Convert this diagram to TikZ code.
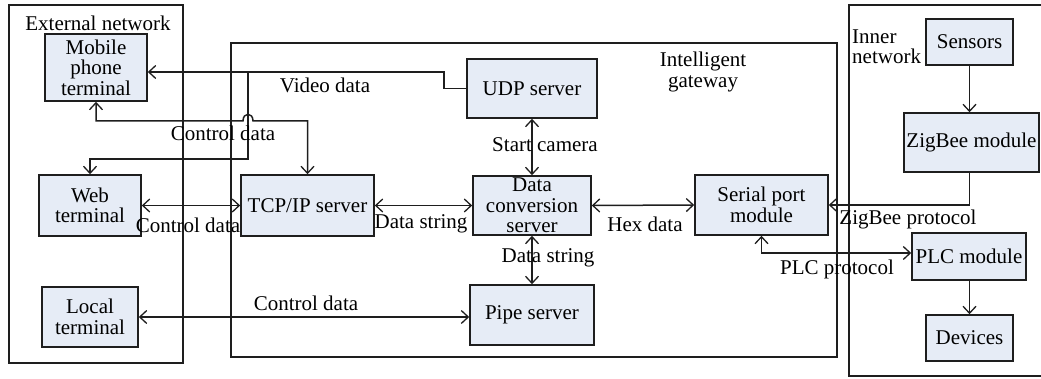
\documentclass[tikz,border=0pt]{standalone}
\usepackage{fontspec}
\setmainfont{Liberation Serif}
\newfontfamily\labelface{Liberation Serif}
\usetikzlibrary{arrows.meta}
\definecolor{boxfill}{RGB}{230,236,246}
\definecolor{ink}{RGB}{30,30,30}
\tikzset{
  txt/.style={font=\labelface\fontsize{21}{20.5}\selectfont},
  block/.style={txt, draw=ink, line width=1.6pt, fill=boxfill, rectangle, inner sep=0pt,
    align=center},
  frame/.style={draw=ink, line width=1.6pt},
  link/.style={draw=ink, line width=1.5pt},
  lbl/.style={txt, inner sep=0pt, align=center},
}
\begin{document}
\begin{tikzpicture}[x=1pt,y=-1pt, >={Straight Barb[length=7pt,width=13pt,line width=1.3pt]}]
\useasboundingbox (0,0) rectangle (1041,379);

% region frames
\draw[frame] (9,5) rectangle (183,363);
\draw[frame] (231,43) rectangle (837,357);
\draw[frame] (1050,5) -- (849,5) -- (849,376) -- (1050,376);

\node[lbl] (extlbl) at (98,23) {External network};
\node[lbl] (gwlbl) at (703,72) {Intelligent\\gateway};
\node[lbl, align=left, anchor=north west, font=\labelface\fontsize{21}{19.5}\selectfont] (inlbl) at (852,30) {Inner\\network};

% external terminals
\node[block, minimum width=102pt, minimum height=67pt] (mob) at (96,67.5) {Mobile\\phone\\terminal};
\node[block, minimum width=102pt, minimum height=61pt] (web) at (90,205.5) {Web\\terminal};
\node[block, minimum width=96pt, minimum height=60pt] (loc) at (90,317) {Local\\terminal};

% gateway services
\node[block, minimum width=133pt, minimum height=61pt] (tcp) at (307.5,205.5) {TCP/IP server};
\node[block, minimum width=130pt, minimum height=59pt] (udp) at (532,88.5) {UDP server};
\node[block, minimum width=118pt, minimum height=59pt] (conv) at (532,205.5) {Data\\conversion\\server};
\node[block, minimum width=124pt, minimum height=60pt] (pipe) at (532,315) {Pipe server};
\node[block, minimum width=133pt, minimum height=60pt] (ser) at (761.5,205) {Serial port\\module};

% inner network devices
\node[block, minimum width=87pt, minimum height=46pt] (sens) at (969.5,42) {Sensors};
\node[block, minimum width=135pt, minimum height=59pt] (zig) at (971.5,142.5) {ZigBee module};
\node[block, minimum width=114pt, minimum height=47pt] (plc) at (969,256.5) {PLC module};
\node[block, minimum width=87pt, minimum height=46pt] (dev) at (969.5,338) {Devices};

% video stream to mobile and web terminals
\coordinate (vsplit) at (248,72);
\draw[link, ->] (udp.west) -- (444,88.5) -- (444,72) -- (mob.east |- vsplit);
\draw[link, ->] (vsplit) -- (248,159) -| (web.north);
\node[lbl] (vlbl) at (325,85) {Video data};

% control path mobile <-> TCP/IP with a hop over the video line
\draw[link, <->] (mob.south) -- (96,121) -- (243,121)
  .. controls (243,112) and (253,112) .. (253,121) -- (307.5,121) -- (tcp.north);
\node[lbl] (c1lbl) at (223,133) {Control data};

\draw[link, <->] (web.east) -- (tcp.west);
\node[lbl] (c2lbl) at (188,225) {Control data};

\draw[link, <->] (tcp.east) -- (conv.west);
\node[lbl] (d1lbl) at (421,224) {Data string};

\draw[link, <->] (conv.east) -- (ser.west);
\node[lbl] (hexlbl) at (645,224) {Hex data};

\draw[link, <->] (udp.south) -- (conv.north);
\node[lbl] (camlbl) at (545,145) {Start camera};

\draw[link, <->] (conv.south) -- (pipe.north);
\node[lbl] (d2lbl) at (548,258) {Data string};

\draw[link, <->] (loc.east) -- (loc.east -| pipe.west);
\node[lbl] (c3lbl) at (306,303) {Control data};

% field side
\draw[link, ->] (sens.south) -- (zig.north -| sens.south);
\draw[link, ->] (zig.south -| sens.south) |- (ser.east);
\node[lbl] (zlbl) at (908,219) {ZigBee protocol};

\draw[link, <->] (ser.south) |- ([yshift=3.5pt]plc.west);
\node[lbl] (plbl) at (837,269) {PLC protocol};

\draw[link, ->] (plc.south -| sens.south) -- (dev.north);
\end{tikzpicture}
\end{document}
